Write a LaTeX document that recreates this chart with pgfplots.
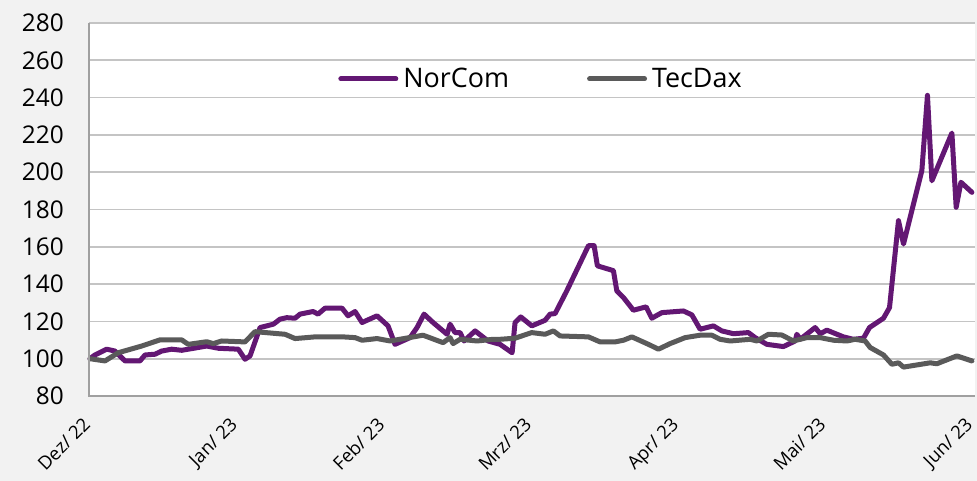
\documentclass[border=0pt]{standalone}
\usepackage{pgfplots}
\pgfplotsset{compat=1.18}
\usepackage{pgfplotstable}
\usepackage{fontspec}
\setmainfont{Open Sans}
\definecolor{bgc}{HTML}{F2F2F2}
\definecolor{ncpurple}{RGB}{99,23,115}
\definecolor{tdgray}{RGB}{90,90,90}
\definecolor{gridc}{HTML}{C4C4C4}
\definecolor{axc}{HTML}{A0A0A0}

\pgfplotstableread{
x y
0 100
0.71 102.0
2.39 105.1
3.57 104.1
5.0 98.8
7.14 98.8
7.86 102.0
9.29 102.4
10.24 104.1
11.67 105.1
13.1 104.5
14.53 105.4
16.67 106.8
18.33 105.6
21.19 105.1
22.14 99.7
22.86 101.5
24.29 116.7
26.19 118.5
27.14 121.2
28.1 122.0
29.29 121.7
30 123.9
31.86 125.3
32.57 123.9
33.57 127.1
36 127.1
36.86 123.0
37.86 125.3
38.86 119.4
41 123.0
42.57 117.6
43.57 107.7
45.71 111.3
46.71 116.7
47.71 123.9
49 119.4
51 113.1
51.43 118.5
52.14 114.0
52.86 114.0
53.43 109.5
55 114.9
56.86 109.5
58.57 107.7
60.29 103.2
60.71 119.4
61.53 122.4
63.1 117.6
65 120.6
65.71 123.9
66.43 124.2
68.1 136.4
71.19 160.6
72 160.6
72.47 149.8
74.76 147.2
75.24 136.4
76.19 132.8
77.61 126.0
79.43 127.8
80.24 121.7
81.67 124.7
84.76 125.6
85.96 123.5
87.14 115.8
89.04 117.6
90.24 114.9
91.9 113.4
94.04 114.0
95 111.3
96.67 107.7
99.04 106.5
100.71 109.5
100.96 113.1
101.43 110.4
103.57 116.7
104.29 113.4
105.24 115.3
107.61 111.7
109.04 110.4
110.47 111.0
111.33 116.7
113.33 121.7
114.19 127.4
115.47 174.0
116.19 161.5
118.81 200.9
119.61 241.2
120.24 195.4
123.1 221.0
123.71 181.2
124.39 194.6
125.96 189.2
}\norcom

\pgfplotstableread{
x y
0 100
2.14 98.8
4.04 103.2
7.39 106.8
8.81 108.6
10 110.1
13.1 110.1
14.04 107.7
16.67 109.1
17.61 108.1
18.81 109.5
22.14 109.0
23.57 114.5
27.86 113.1
29.29 110.8
32.14 111.7
36.14 111.7
37.86 111.3
38.86 109.9
41 110.8
42.86 109.5
47.57 112.6
50.43 108.6
51.43 111.3
51.86 108.1
52.86 110.4
55.29 109.5
57.57 110.4
58.57 110.4
60.71 111.0
63.1 114.0
65 113.1
66.19 114.9
67.14 112.2
71.19 111.7
72.86 109.0
75 109.0
76.19 109.9
77.39 111.7
79.76 107.7
81.19 105.1
82.86 108.1
85 111.3
87.14 112.6
88.81 112.6
90 110.4
91.43 109.5
94.29 110.4
95.24 109.5
96.9 113.1
98.81 112.7
100.47 109.5
102.39 111.3
104.29 111.3
106.19 109.9
108.1 109.5
109.29 110.4
110.71 109.5
111.43 106.0
113.33 102.0
114.53 97.0
115.47 97.8
116.19 95.5
120 97.8
120.96 97.3
123.81 101.5
125.96 98.8
}\tecdax

\begin{document}
\begin{tikzpicture}
\path[use as bounding box, fill=bgc] (-89bp,-85bp) rectangle (888bp,396bp);
\begin{axis}[
  at={(0,0)}, anchor=south west,
  scale only axis,
  width=886bp, height=373bp,
  xmin=-0.14, xmax=126.4,
  ymin=80, ymax=280,
  ytick={80,100,...,280},
  xtick={0,21,42,63,84,105,126},
  xticklabels={Dez/ 22, Jan/ 23, Feb/ 23, Mrz/ 23, Apr/ 23, Mai/ 23, Jun/ 23},
  axis line style={draw=none},
  major tick length=0pt,
  ymajorgrids,
  major grid style={draw=gridc, line width=1.6bp},
  axis background/.style={fill=white},
  /pgf/number format/assume math mode=true,
  yticklabel style={font=\fontsize{24.5}{29}\selectfont, inner sep=0pt, anchor=east, xshift=-25bp},
  xticklabel style={font=\fontsize{18.5}{22}\selectfont, inner sep=0pt, xshift=-8bp, yshift=-20bp, rotate=45, anchor=north east},
  legend style={at={(0.509,0.85)}, anchor=center, draw=none, fill=none,
    font=\fontsize{27}{32}\selectfont, nodes={inner sep=0pt},
    /tikz/every odd column/.append style={column sep=5bp},
    /tikz/every even column/.append style={column sep=78bp}},
  legend columns=2,
  legend image code/.code={\draw[#1, line width=5bp, line cap=round] (0bp,0bp) -- (55bp,0bp);},
  clip=false,
  after end axis/.code={\draw[axc, line width=1.8bp] (rel axis cs:0,1) -- (rel axis cs:0,0) -- (rel axis cs:1,0);},
]
\addplot[ncpurple, line width=5bp, line join=round, line cap=round] table[x=x,y=y] {\norcom};
\addlegendentry{NorCom}
\addplot[tdgray, line width=5bp, line join=round, line cap=round] table[x=x,y=y] {\tecdax};
\addlegendentry{TecDax}
\end{axis}
\end{tikzpicture}
\end{document}
